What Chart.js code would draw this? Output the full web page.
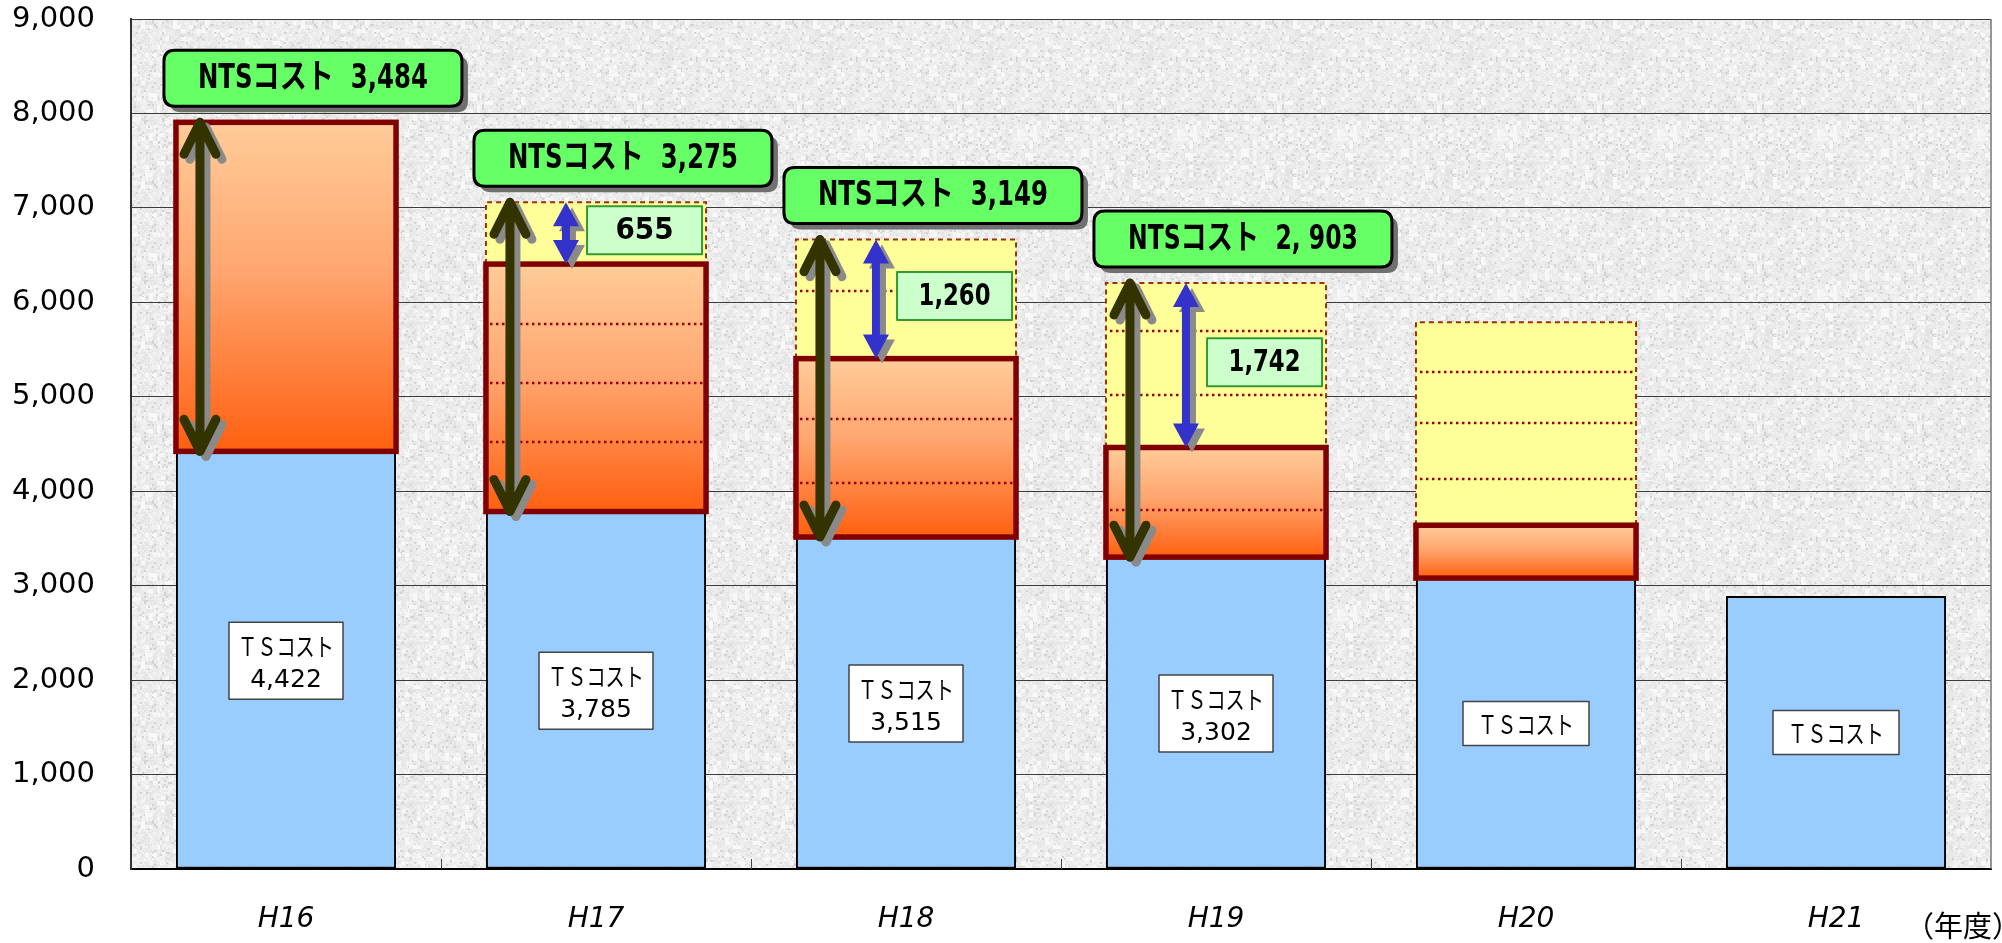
<!DOCTYPE html>
<html>
<head>
<meta charset="utf-8">
<script src="https://cdn.jsdelivr.net/npm/chart.js@4.4.1/dist/chart.umd.min.js"></script>
<style>
html, body { margin: 0; padding: 0; background: #fff; }
canvas { display: block; }
</style>
</head>
<body>
<canvas id="costChart" width="2002" height="943"></canvas>
<script>
// values
var years = ['H16', 'H17', 'H18', 'H19', 'H20', 'H21'];
var tsCost = [4422, 3785, 3515, 3302, 3080, 2890];      // blue part
var ntsCost = [3484, 2620, 1889, 1161, 560, null];      // orange part (after cut)
var ntsCut = [null, 655, 1260, 1742, 2150, null];       // yellow part (the cut)
var ntsText = ['3,484', '3,275', '3,149', '2, 903', null, null];
var tsText = ['4,422', '3,785', '3,515', '3,302', null, null];
var cutText = [null, '655', '1,260', '1,742', null, null];
var dottedLines = [[], [5771, 5146, 4521], [6120, 4765, 4087], [5697, 5019, 3801], [5263, 4723, 4130], []];
var yMax = 9000;
var yStep = 1000;

// grey granite texture for the plot area (deterministic hash, no randomness)
function hash(x, y) {
	var n = Math.imul(x, 374761393) + Math.imul(y, 668265263);
	n = Math.imul(n ^ (n >>> 13), 1274126177);
	n = n ^ (n >>> 16);
	return (n >>> 0) / 4294967296;
}
function granite(ctx) {
	var c = document.createElement('canvas');
	c.width = 160; c.height = 160;
	var g = c.getContext('2d');
	var img = g.createImageData(160, 160);
	for (var y = 0; y < 160; y++) {
		for (var x = 0; x < 160; x++) {
			var h1 = hash(x >> 1, y >> 1);
			var h2 = hash((x + 7) >> 2, (y + 3) >> 2);
			var v = 237 + (h1 - 0.5) * 14 + (h2 - 0.5) * 14;
			if (h1 > 0.94) v = 212;
			if (h2 > 0.9) v = 248;
			var k = (y * 160 + x) * 4;
			img.data[k] = v; img.data[k + 1] = v; img.data[k + 2] = v; img.data[k + 3] = 255;
		}
	}
	g.putImageData(img, 0, 0);
	return ctx.createPattern(c, 'repeat');
}

function boxPath(ctx, x, y, w, h, r) {
	ctx.beginPath();
	ctx.moveTo(x + r, y);
	ctx.lineTo(x + w - r, y);
	ctx.quadraticCurveTo(x + w, y, x + w, y + r);
	ctx.lineTo(x + w, y + h - r);
	ctx.quadraticCurveTo(x + w, y + h, x + w - r, y + h);
	ctx.lineTo(x + r, y + h);
	ctx.quadraticCurveTo(x, y + h, x, y + h - r);
	ctx.lineTo(x, y + r);
	ctx.quadraticCurveTo(x, y, x + r, y);
	ctx.closePath();
}

function openArrow(ctx, x, y1, y2, color) {
	ctx.strokeStyle = color;
	ctx.lineWidth = 9;
	ctx.lineCap = 'round';
	ctx.lineJoin = 'round';
	ctx.beginPath();
	ctx.moveTo(x, y1); ctx.lineTo(x, y2);
	ctx.moveTo(x - 16, y1 + 32); ctx.lineTo(x, y1); ctx.lineTo(x + 16, y1 + 32);
	ctx.moveTo(x - 16, y2 - 32); ctx.lineTo(x, y2); ctx.lineTo(x + 16, y2 - 32);
	ctx.stroke();
}

function solidArrow(ctx, x, y1, y2, color) {
	ctx.fillStyle = color;
	ctx.strokeStyle = color;
	ctx.lineWidth = 8;
	ctx.lineCap = 'butt';
	ctx.beginPath();
	ctx.moveTo(x, y1 + 20); ctx.lineTo(x, y2 - 20);
	ctx.stroke();
	ctx.beginPath();
	ctx.moveTo(x, y1); ctx.lineTo(x + 13, y1 + 24); ctx.lineTo(x - 13, y1 + 24); ctx.closePath();
	ctx.moveTo(x, y2); ctx.lineTo(x + 13, y2 - 24); ctx.lineTo(x - 13, y2 - 24); ctx.closePath();
	ctx.fill();
}

var decor = {
	id: 'decor',
	beforeDraw: function(chart) {
		var a = chart.chartArea, ctx = chart.ctx;
		ctx.save();
		ctx.fillStyle = granite(ctx);
		ctx.fillRect(a.left, a.top, a.right - a.left, a.bottom - a.top);
		ctx.restore();
	},
	afterDatasetsDraw: function(chart) {
		var ctx = chart.ctx, a = chart.chartArea, ys = chart.scales.y, xs = chart.scales.x;
		var blue = chart.getDatasetMeta(0).data;
		var orange = chart.getDatasetMeta(1).data;
		var yellow = chart.getDatasetMeta(2).data;
		ctx.save();

		// right border and small ticks between years
		ctx.strokeStyle = '#777';
		ctx.lineWidth = 1.5;
		ctx.beginPath();
		ctx.moveTo(a.right, a.top); ctx.lineTo(a.right, a.bottom);
		ctx.stroke();
		ctx.strokeStyle = '#444';
		ctx.lineWidth = 1;
		for (var t = 1; t < years.length; t++) {
			var tx = Math.round(xs.getPixelForValue(t - 0.5)) + 0.5;
			ctx.beginPath();
			ctx.moveTo(tx, a.bottom); ctx.lineTo(tx, a.bottom - 10);
			ctx.stroke();
		}

		years.forEach(function(year, i) {
			var b = blue[i];
			var L = b.x - b.width / 2, R = b.x + b.width / 2;

			// dashed outline of the cut part
			if (ntsCut[i] != null) {
				var e = yellow[i];
				ctx.strokeStyle = '#993300';
				ctx.lineWidth = 2;
				ctx.setLineDash([5, 4]);
				ctx.beginPath();
				ctx.moveTo(L, e.base); ctx.lineTo(L, e.y); ctx.lineTo(R, e.y); ctx.lineTo(R, e.base);
				ctx.stroke();
			}
			// dotted lines inside the boxes
			ctx.strokeStyle = '#990000';
			ctx.lineWidth = 2.5;
			ctx.setLineDash([2.5, 3.5]);
			dottedLines[i].forEach(function(v) {
				var py = ys.getPixelForValue(v);
				ctx.beginPath();
				ctx.moveTo(L + 4, py); ctx.lineTo(R - 2, py);
				ctx.stroke();
			});
			ctx.setLineDash([]);
			// thick dark red frame of the NTS part
			if (ntsCost[i] != null) {
				var o = orange[i];
				ctx.strokeStyle = '#800000';
				ctx.lineWidth = 5.5;
				ctx.strokeRect(L, o.y, R - L, o.base - o.y);
			}
		});

		years.forEach(function(year, i) {
			var b = blue[i];
			var L = b.x - b.width / 2, R = b.x + b.width / 2;
			var tsTop = b.y;
			var oTop = ntsCost[i] != null ? orange[i].y : tsTop;
			var allTop = ntsCut[i] != null ? yellow[i].y : oTop;

			if (ntsText[i] != null) {
				// dark double arrow over whole NTS cost
				var ax = L + 24;
				openArrow(ctx, ax + 6, allTop + 5, tsTop + 5, '#8a8a8a');
				openArrow(ctx, ax, allTop, tsTop, '#333300');
				// blue double arrow over the cut
				if (ntsCut[i] != null) {
					var bx = L + 80;
					solidArrow(ctx, bx + 6, allTop + 5, oTop + 5, '#8a8a8a');
					solidArrow(ctx, bx, allTop, oTop, '#3333cc');
				}
			}

			// value box of the cut
			if (cutText[i] != null) {
				var cy = (allTop + oTop) / 2 - 3;
				var bw = 115, bh = 48, bxl = R - 4 - bw;
				ctx.fillStyle = '#ccffcc';
				ctx.fillRect(bxl, cy - bh / 2, bw, bh);
				ctx.strokeStyle = '#339933';
				ctx.lineWidth = 2;
				ctx.strokeRect(bxl, cy - bh / 2, bw, bh);
				ctx.fillStyle = '#000';
				ctx.font = 'bold 31px "Liberation Sans Narrow", "DejaVu Sans Condensed", sans-serif';
				ctx.textAlign = 'center';
				ctx.textBaseline = 'middle';
				ctx.fillText(cutText[i], bxl + bw / 2, cy + 1, 72);
			}

			// TS label in the blue bar
			var my = ys.getPixelForValue(tsCost[i] / 2);
			ctx.textAlign = 'center';
			ctx.textBaseline = 'middle';
			if (tsText[i] != null) {
				ctx.fillStyle = '#fff';
				ctx.fillRect(b.x - 57, my - 38, 114, 77);
				ctx.strokeStyle = '#444';
				ctx.lineWidth = 1.5;
				ctx.strokeRect(b.x - 57, my - 38, 114, 77);
				ctx.fillStyle = '#000';
				ctx.font = '25px "Noto Sans CJK JP", sans-serif';
				ctx.fillText('ＴＳコスト', b.x, my - 14, 96);
				ctx.font = '25px "DejaVu Sans", sans-serif';
				ctx.fillText(tsText[i], b.x, my + 20);
			} else {
				ctx.fillStyle = '#fff';
				ctx.fillRect(b.x - 63, my - 22, 126, 44);
				ctx.strokeStyle = '#444';
				ctx.lineWidth = 1.5;
				ctx.strokeRect(b.x - 63, my - 22, 126, 44);
				ctx.fillStyle = '#000';
				ctx.font = '25px "Noto Sans CJK JP", sans-serif';
				ctx.fillText('ＴＳコスト', b.x, my + 1, 96);
			}

			// green NTS label above the bar
			if (ntsText[i] != null) {
				var w = 298, h = 56, lx = L - 12, ly = allTop - 16 - h;
				ctx.fillStyle = '#707070';
				boxPath(ctx, lx + 6, ly + 6, w, h, 11);
				ctx.fill();
				ctx.fillStyle = '#66ff66';
				boxPath(ctx, lx, ly, w, h, 11);
				ctx.fill();
				ctx.strokeStyle = '#000';
				ctx.lineWidth = 3;
				ctx.stroke();
				ctx.fillStyle = '#000';
				ctx.font = 'bold 34px "Liberation Sans Narrow", "DejaVu Sans Condensed", "Noto Sans CJK JP", sans-serif';
				ctx.fillText('NTSコスト  ' + ntsText[i], lx + w / 2, ly + h / 2 + 1, 230);
			}
		});

		// unit label
		ctx.fillStyle = '#000';
		ctx.textAlign = 'left';
		ctx.textBaseline = 'middle';
		ctx.font = '29px "Noto Sans CJK JP", sans-serif';
		ctx.fillText('（年度）', 1905, 926);
		ctx.restore();
	}
};

var ctx = document.getElementById('costChart').getContext('2d');
var costChart = new Chart(ctx, {
	type: 'bar',
	data: {
		labels: years,
		datasets: [
			{
				label: 'TSコスト',
				data: tsCost,
				backgroundColor: '#99ccff',
				borderColor: '#000',
				borderWidth: 2,
				borderSkipped: false
			},
			{
				label: 'NTSコスト',
				data: ntsCost,
				backgroundColor: function(c) {
					var ch = c.chart, i = c.dataIndex;
					if (!ch.chartArea || i == null || ntsCost[i] == null) return '#ff9966';
					var ys = ch.scales.y;
					var top = ys.getPixelForValue(tsCost[i] + ntsCost[i]);
					var bot = ys.getPixelForValue(tsCost[i]);
					var g = ch.ctx.createLinearGradient(0, top, 0, bot);
					g.addColorStop(0, '#ffcc99');
					g.addColorStop(0.45, '#ffa670');
					g.addColorStop(1, '#ff6010');
					return g;
				},
				borderWidth: 0
			},
			{
				label: '削減',
				data: ntsCut,
				backgroundColor: '#ffff99',
				borderWidth: 0
			}
		]
	},
	options: {
		responsive: false,
		animation: false,
		layout: { padding: { top: 19, right: 11, left: 0, bottom: 0 } },
		datasets: { bar: { barPercentage: 0.71, categoryPercentage: 1.0 } },
		plugins: { legend: { display: false }, tooltip: { enabled: false } },
		scales: {
			x: {
				stacked: true,
				grid: { display: false },
				border: { display: true, color: '#000', width: 2 },
				ticks: {
					color: '#000',
					padding: 26,
					font: { family: '"DejaVu Sans", sans-serif', size: 28, style: 'italic' }
				},
				afterFit: function(s) { s.height = 74; s.paddingLeft = 0; s.paddingRight = 0; }
			},
			y: {
				stacked: true,
				min: 0,
				max: yMax,
				grid: { color: '#3c3c3c', lineWidth: 1, drawTicks: false },
				border: { display: true, color: '#333', width: 2 },
				ticks: {
					stepSize: yStep,
					padding: 36,
					color: '#000',
					font: { family: '"DejaVu Sans", sans-serif', size: 29 },
					callback: function(v) { return v.toLocaleString('en-US'); }
				},
				afterFit: function(s) { s.width = 131; s.paddingTop = 0; s.paddingBottom = 0; }
			}
		}
	},
	plugins: [decor]
});
</script>
</body>
</html>
